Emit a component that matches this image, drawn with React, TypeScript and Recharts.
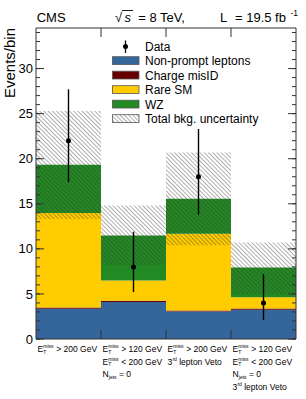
import { Bar, ComposedChart, ErrorBar, Line, XAxis, YAxis } from 'recharts';

// bins (signal regions)
const bins = ['SR1', 'SR2', 'SR3', 'SR4'];
const binCenters = [0.5, 1.5, 2.5, 3.5];

// stacked backgrounds, events per bin
const nonPrompt = [3.35, 4.1, 3.05, 3.25];
const chargeMisId = [0.14, 0.14, 0.12, 0.12];
const rareSM = [10.5, 2.25, 8.5, 1.25];
const wz = [5.35, 5.0, 3.9, 3.3];

// total background uncertainty band
const uncLow = [13.3, 8.2, 10.4, 5.0];
const uncHigh = [25.3, 14.8, 20.7, 10.7];

// observed data with asymmetric error bars
const observed = [22, 8, 18, 4];
const obsLow = [17.4, 5.2, 13.8, 2.1];
const obsHigh = [27.7, 11.9, 23.3, 7.2];

// axis ticks
const yMajor = [0, 5, 10, 15, 20, 25, 30];
const yMinor = [0, 1, 2, 3, 4, 5, 6, 7, 8, 9, 10, 11, 12, 13, 14, 15, 16, 17, 18, 19, 20, 21, 22, 23, 24, 25, 26, 27, 28, 29, 30, 31, 32, 33, 34];
const binEdges = [1, 2, 3];

// bin labels: [kind, text]
const binLabels = [
  [['met', '> 200 GeV']],
  [['met', '> 120 GeV'], ['met', '< 200 GeV'], ['njets', '= 0']],
  [['met', '> 200 GeV'], ['third', 'lepton Veto']],
  [['met', '> 120 GeV'], ['met', '< 200 GeV'], ['njets', '= 0'], ['third', 'lepton Veto']],
];

const colors = {
  nonPrompt: '#35669b',
  chargeMisId: '#660000',
  rareSM: '#ffcc00',
  wz: '#238a23',
  frame: '#333',
};

const legendEntries = [
  { label: 'Data', kind: 'data' },
  { label: 'Non-prompt leptons', kind: 'box', fill: colors.nonPrompt },
  { label: 'Charge misID', kind: 'box', fill: colors.chargeMisId },
  { label: 'Rare SM', kind: 'box', fill: colors.rareSM },
  { label: 'WZ', kind: 'box', fill: colors.wz },
  { label: 'Total bkg. uncertainty', kind: 'box', fill: 'url(#hatch)' },
];

const data = bins.map((bin, i) => ({
  bin,
  center: binCenters[i],
  nonPrompt: nonPrompt[i],
  chargeMisId: chargeMisId[i],
  rareSM: rareSM[i],
  wz: wz[i],
  unc: [uncLow[i], uncHigh[i]],
  observed: observed[i],
  obsErr: [observed[i] - obsLow[i], obsHigh[i] - observed[i]],
}));

const FONT = '"Liberation Sans", Arial, Helvetica, sans-serif';
const Y_DOMAIN = [0, 34.5];
const TOP = 2000;
const THIN = 0.001; // mirrored tick-only axes take (almost) no room
const noLabel = () => <g />;

const HatchDefs = () => (
  <defs>
    <pattern id="hatch" patternUnits="userSpaceOnUse" width="3" height="3" patternTransform="rotate(-45)">
      <line x1="0" y1="0" x2="0" y2="3" stroke="#333" strokeWidth="0.8" />
    </pattern>
  </defs>
);

const LabelLine = ({ kind, text, x0, yb }: any) => {
  const fs = 8.5;
  const small = 5;
  if (kind === 'met') {
    return (
      <g>
        <text x={x0} y={yb} fontSize={fs}>E</text>
        <text x={x0 + 5.8} y={yb + 1.8} fontSize={small}>T</text>
        <text x={x0 + 5.8} y={yb - 3.6} fontSize={small}>miss</text>
        <text x={x0 + 18.7} y={yb} fontSize={fs}>{text}</text>
      </g>
    );
  }
  if (kind === 'njets') {
    return (
      <g>
        <text x={x0} y={yb} fontSize={fs}>N</text>
        <text x={x0 + 6.3} y={yb + 1.8} fontSize={small}>jets</text>
        <text x={x0 + 16.5} y={yb} fontSize={fs}>{text}</text>
      </g>
    );
  }
  return (
    <g>
      <text x={x0} y={yb} fontSize={fs}>3</text>
      <text x={x0 + 4.9} y={yb - 3.6} fontSize={small}>rd</text>
      <text x={x0 + 11.7} y={yb} fontSize={fs}>{text}</text>
    </g>
  );
};

const BinTick = ({ x, y, payload }: any) => {
  const idx = bins.indexOf(payload.value);
  const lines = binLabels[idx] || [];
  const x0 = x - 31;
  return (
    <g fill="#000" fontFamily={FONT}>
      {lines.map((l, i) => (
        <LabelLine key={i} kind={l[0]} text={l[1]} x0={x0} yb={y + 13 + i * 12.6} />
      ))}
    </g>
  );
};

const Overlay = () => (
  <svg width={306} height={399} style={{ position: 'absolute', left: 0, top: 0, pointerEvents: 'none' }} fontFamily={FONT}>
    <HatchDefs />
    {/* header */}
    <text x={36.7} y={21.7} fontSize={13}>CMS</text>
    <text x={115} y={21.7} fontSize={13}>√</text>
    <line x1={122} y1={10.5} x2={133} y2={10.5} stroke="#000" strokeWidth={0.9} />
    <text x={124.5} y={21.7} fontSize={13} fontStyle="italic">s</text>
    <text x={138.3} y={21.7} fontSize={13}>= 8 TeV,</text>
    <text x={220} y={21.7} fontSize={13}>L</text>
    <text x={235} y={21.7} fontSize={13}>= 19.5 fb</text>
    <text x={290.5} y={15.5} fontSize={8.5}>-1</text>
    {/* y title */}
    <text x={14.5} y={28} fontSize={15} textAnchor="end" transform="rotate(-90 14.5 28)">Events/bin</text>
    {/* legend */}
    {legendEntries.map((e, i) => {
      const yb = 50.5 + i * 14.5;
      return (
        <g key={e.label}>
          {e.kind === 'data' ? (
            <g>
              <line x1={125.5} y1={yb - 10} x2={125.5} y2={yb + 2.5} stroke="#000" strokeWidth={1.3} />
              <circle cx={125.5} cy={yb - 4} r={2.5} fill="#000" />
            </g>
          ) : (
            <rect x={112.5} y={yb - 8.3} width={26.5} height={7.8} fill={e.fill} stroke="#555" strokeWidth={0.8} />
          )}
          <text x={145} y={yb} fontSize={12}>{e.label}</text>
        </g>
      );
    })}
  </svg>
);

// invisible series that only give the tick-mark axes a scale
const ghost = (xId: string, yId: string) => (
  <Line
    xAxisId={xId}
    yAxisId={yId}
    dataKey="observed"
    stroke="none"
    dot={false}
    activeDot={false}
    legendType="none"
    isAnimationActive={false}
  />
);

const App = () => {
  return (
    <div style={{ position: 'absolute', left: 0, top: 0, width: 306, height: 399 }}>
      <ComposedChart
        width={306}
        height={399}
        data={data}
        margin={{ top: 28, right: 10, bottom: 0, left: 0 }}
        barCategoryGap={0}
        barGap={0}
      >
        <HatchDefs />
        <Bar xAxisId="main" yAxisId="main" dataKey="nonPrompt" stackId="bkg" fill={colors.nonPrompt} isAnimationActive={false} />
        <Bar xAxisId="main" yAxisId="main" dataKey="chargeMisId" stackId="bkg" fill={colors.chargeMisId} isAnimationActive={false} />
        <Bar xAxisId="main" yAxisId="main" dataKey="rareSM" stackId="bkg" fill={colors.rareSM} isAnimationActive={false} />
        <Bar xAxisId="main" yAxisId="main" dataKey="wz" stackId="bkg" fill={colors.wz} isAnimationActive={false} />
        <Bar xAxisId="unc" yAxisId="main" dataKey="unc" fill="url(#hatch)" isAnimationActive={false} />
        <Line
          xAxisId="main"
          yAxisId="main"
          dataKey="observed"
          stroke="none"
          dot={{ r: 2.5, fill: '#000', stroke: '#000', strokeWidth: 0 }}
          activeDot={false}
          isAnimationActive={false}
        >
          <ErrorBar dataKey="obsErr" width={0} stroke="#000" strokeWidth={1.4} direction="y" />
        </Line>
        {ghost('edgesTop', 'majL')}
        {ghost('edgesBottom', 'minL')}
        {ghost('main', 'majR')}
        {ghost('main', 'minR')}

        <XAxis
          xAxisId="main"
          dataKey="bin"
          height={60}
          interval={0}
          tickLine={false}
          tickSize={0}
          tickMargin={0}
          axisLine={{ stroke: colors.frame }}
          tick={<BinTick />}
          zIndex={TOP}
        />
        <XAxis xAxisId="unc" dataKey="bin" hide />
        <XAxis
          xAxisId="edgesBottom"
          dataKey="center"
          type="number"
          domain={[0, 4]}
          allowDataOverflow
          ticks={binEdges}
          interval={0}
          orientation="bottom"
          mirror
          height={THIN}
          tick={noLabel}
          tickSize={9}
          axisLine={false}
          tickLine={{ stroke: colors.frame }}
          zIndex={TOP}
        />
        <XAxis
          xAxisId="edgesTop"
          dataKey="center"
          type="number"
          domain={[0, 4]}
          allowDataOverflow
          ticks={binEdges}
          interval={0}
          orientation="top"
          mirror
          height={THIN}
          tick={noLabel}
          tickSize={9}
          axisLine={{ stroke: colors.frame }}
          tickLine={{ stroke: colors.frame }}
          zIndex={TOP}
        />
        <YAxis
          yAxisId="main"
          width={36}
          domain={Y_DOMAIN}
          allowDataOverflow
          ticks={yMajor}
          interval={0}
          tickLine={false}
          tickSize={0}
          tickMargin={3}
          axisLine={{ stroke: colors.frame }}
          tick={{ fontSize: 13, fill: '#000', fontFamily: FONT }}
          zIndex={TOP}
        />
        <YAxis yAxisId="majL" width={THIN} mirror domain={Y_DOMAIN} allowDataOverflow ticks={yMajor} interval={0} tick={noLabel} tickSize={8} axisLine={false} tickLine={{ stroke: colors.frame }} zIndex={TOP} />
        <YAxis yAxisId="minL" width={THIN} mirror domain={Y_DOMAIN} allowDataOverflow ticks={yMinor} interval={0} tick={noLabel} tickSize={4} axisLine={false} tickLine={{ stroke: colors.frame }} zIndex={TOP} />
        <YAxis yAxisId="majR" orientation="right" width={THIN} mirror domain={Y_DOMAIN} allowDataOverflow ticks={yMajor} interval={0} tick={noLabel} tickSize={8} axisLine={{ stroke: colors.frame }} tickLine={{ stroke: colors.frame }} zIndex={TOP} />
        <YAxis yAxisId="minR" orientation="right" width={THIN} mirror domain={Y_DOMAIN} allowDataOverflow ticks={yMinor} interval={0} tick={noLabel} tickSize={4} axisLine={false} tickLine={{ stroke: colors.frame }} zIndex={TOP} />
      </ComposedChart>
      <Overlay />
    </div>
  );
};

export default App;
